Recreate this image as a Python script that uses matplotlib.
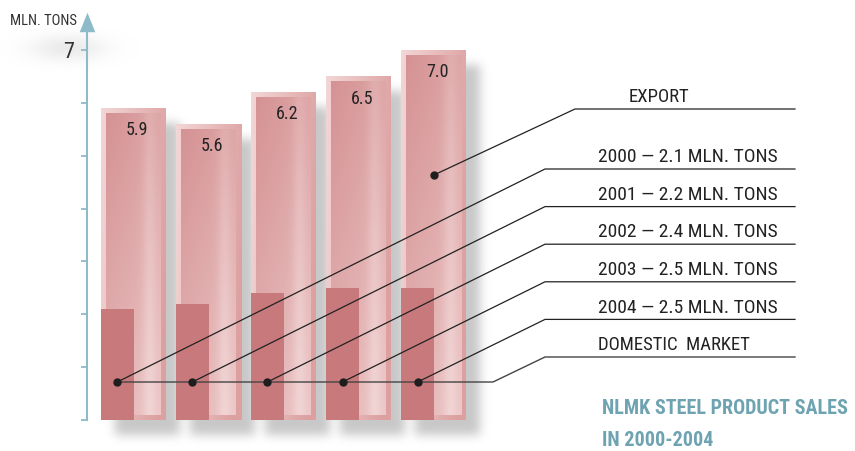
import numpy as np
import matplotlib.pyplot as plt
from matplotlib import font_manager

# sales, mln tons
years = [2000, 2001, 2002, 2003, 2004]
export = [5.9, 5.6, 6.2, 6.5, 7.0]
domestic = [2.1, 2.2, 2.4, 2.5, 2.5]
y_ticks = [0, 1, 2, 3, 4, 5, 6, 7]

# pick a condensed face if one is around
names = {f.name for f in font_manager.fontManager.ttflist}
for fam in ['Liberation Sans Narrow', 'Roboto Condensed', 'DejaVu Sans Condensed', 'Liberation Sans']:
    if fam in names:
        FONT = fam
        break
else:
    FONT = 'DejaVu Sans'
plt.rcParams['font.family'] = [FONT, 'DejaVu Sans']

W_PX, H_PX = 855, 451
Y_ZERO = 420.0      # pixel row of value 0
Y_UNIT = 52.86      # pixels per mln tons
X_FIRST = 133.5     # pixel column of first bar centre
X_STEP = 75.1       # pixels between bars


def px_x(p):
    return (p - X_FIRST) / X_STEP


def px_y(p):
    return (Y_ZERO - p) / Y_UNIT


X0, X1 = px_x(0), px_x(W_PX)
Y0, Y1 = px_y(H_PX), px_y(0)

fig = plt.figure(figsize=(W_PX / 100, H_PX / 100), dpi=100)
ax = fig.add_axes([0, 0, 1, 1])

x = np.arange(len(years))
bw = 65 / X_STEP
ix, iy = 5 / X_STEP, 5 / Y_UNIT

# ---- soft drop shadow behind the bars (blurred mask) ----
cols = X0 + (np.arange(W_PX) + 0.5) / W_PX * (X1 - X0)
rows = Y0 + (np.arange(H_PX) + 0.5) / H_PX * (Y1 - Y0)
gx, gy = np.meshgrid(cols, rows)
mask = np.zeros_like(gx)
sdx, sdy = 14 / X_STEP, 15 / Y_UNIT
for xi, v in zip(x, export):
    m = (gx > xi - bw / 2 + sdx) & (gx < xi + bw / 2 + sdx) & (gy > -sdy) & (gy < v - sdy)
    mask[m] = 1.0
# haze behind the "7"
mask += 0.45 * np.exp(-(((gx - px_x(68)) / (36 / X_STEP)) ** 2 + ((gy - px_y(48)) / (11 / Y_UNIT)) ** 2))


def blur(a, sigma):
    r = int(3 * sigma)
    k = np.exp(-0.5 * (np.arange(-r, r + 1) / sigma) ** 2)
    k /= k.sum()
    a = np.apply_along_axis(lambda s: np.convolve(s, k, mode='same'), 0, a)
    a = np.apply_along_axis(lambda s: np.convolve(s, k, mode='same'), 1, a)
    return a


mask = np.clip(blur(mask, 5), 0, 1)
shadow = np.zeros((H_PX, W_PX, 4))
shadow[..., :3] = 0.52
shadow[..., 3] = mask * 0.45
ax.imshow(shadow, extent=(X0, X1, Y0, Y1), origin='lower', aspect='auto', zorder=0.5)


def gradient(h, w, c0, c1, wx, wy, hl=None):
    ty = np.linspace(0, 1, h)[:, None]
    tx = np.linspace(0, 1, w)[None, :]
    t = np.clip(wx * tx + wy * ty, 0, 1)[..., None]
    img = np.array(c0) + (np.array(c1) - np.array(c0)) * t
    if hl is not None:
        g = (np.exp(-((tx - 0.8) / 0.13) ** 2) * (0.3 + 0.7 * ty))[..., None]
        img = img + (np.array(hl) - img) * 0.6 * g
    return img / 255.0


outer_img = gradient(100, 60, (243, 214, 214), (220, 160, 160), 0.85, 0.25)
inner_img = gradient(200, 60, (213, 146, 148), (236, 198, 198), 0.35, 0.65, hl=(245, 224, 224))

# outer (export) bars with light frame
outer = ax.bar(x, export, width=bw, color='#ebc0c0', linewidth=0, zorder=2)
for b in outer:
    im = ax.imshow(outer_img, extent=(b.get_x(), b.get_x() + b.get_width(), 0, b.get_height()),
                   aspect='auto', zorder=2.1)
    im.set_clip_path(b)

inner = ax.bar(x, np.array(export) - 2 * iy, bottom=iy, width=bw - 2 * ix,
               color='#dca6a6', linewidth=0, zorder=3)
for b in inner:
    im = ax.imshow(inner_img, extent=(b.get_x(), b.get_x() + b.get_width(), b.get_y(), b.get_y() + b.get_height()),
                   aspect='auto', zorder=3.1)
    im.set_clip_path(b)

# domestic market bars sit in the left half
ax.bar(x - bw / 2, domestic, width=bw / 2, align='edge', color='#c8797c', linewidth=0, zorder=4)

for xi, v in zip(x, export):
    ax.text(xi + 0.05, v - 0.42, f'{v:.1f}', ha='center', va='center', fontsize=13,
            color='#222222', zorder=7)

# ---- y axis ----
axis_x = px_x(87)
axis_c = '#8dbbc9'
for s in ['top', 'right', 'bottom']:
    ax.spines[s].set_visible(False)
ax.spines['left'].set_position(('data', axis_x))
ax.spines['left'].set_bounds(0, px_y(28))
ax.spines['left'].set_color(axis_c)
ax.spines['left'].set_linewidth(1.5)
ax.spines['left'].set_zorder(5)
ax.set_yticks(y_ticks)
ax.set_yticklabels(['' if t != 7 else '7' for t in y_ticks])
ax.tick_params(axis='y', length=4, width=1.3, color=axis_c, direction='out', pad=5,
               labelsize=16, labelcolor='#333333')
ax.set_xticks([])
ax.plot([axis_x], [px_y(22)], marker=[(-0.4, -0.5), (0, 0.5), (0.4, -0.5)], markersize=14,
        color=axis_c, markeredgewidth=0, zorder=6, clip_on=False)
fig.text(10 / W_PX, 1 - 21 / H_PX, 'MLN. TONS', fontsize=10.5, color='#333333', va='center', ha='left')

# ---- leader lines and labels ----
lc = '#222222'
dot_y = px_y(382)
lab_x0, lab_x1 = px_x(545), px_x(795)
lab_y = [px_y(169 + 37.6 * k) for k in range(len(years) + 1)]
dots_x = x - bw / 4

for k, (xi, yr, d) in enumerate(zip(dots_x, years, domestic)):
    ax.plot([xi, lab_x0, lab_x1], [dot_y, lab_y[k], lab_y[k]], color=lc, lw=0.9, zorder=5)
    ax.annotate(f'{yr} \u2014 {d} MLN. TONS', (px_x(598), lab_y[k]), xytext=(0, 2),
                textcoords='offset points', ha='left', va='bottom', fontsize=14, color=lc, zorder=7)

# domestic market bus line
ax.plot([dots_x[0], px_x(493), lab_x0, lab_x1], [dot_y, dot_y, lab_y[-1], lab_y[-1]],
        color='#444444', lw=1.0, zorder=5)
ax.annotate('DOMESTIC  MARKET', (px_x(598), lab_y[-1]), xytext=(0, 2), textcoords='offset points',
            ha='left', va='bottom', fontsize=13.5, color=lc, zorder=7)
ax.plot(dots_x, [dot_y] * len(dots_x), 'o', color='#1e1e1e', markersize=5, zorder=6)

# export leader
exp_dot = (x[-1], px_y(175))
ax.plot([exp_dot[0], px_x(575), lab_x1], [exp_dot[1], px_y(109), px_y(109)], color=lc, lw=0.9, zorder=5)
ax.plot([exp_dot[0]], [exp_dot[1]], 'o', color='#1e1e1e', markersize=5, zorder=6)
ax.annotate('EXPORT', (px_x(629), px_y(109)), xytext=(0, 2), textcoords='offset points',
            ha='left', va='bottom', fontsize=13.5, color=lc, zorder=7)

# title
title_c = '#6ea3b2'
fig.text(602 / W_PX, 1 - 408 / H_PX, 'NLMK STEEL PRODUCT SALES', fontsize=14.5, fontweight='bold',
         color=title_c, va='center', ha='left')
fig.text(602 / W_PX, 1 - 440 / H_PX, 'IN 2000-2004', fontsize=14.5, fontweight='bold',
         color=title_c, va='center', ha='left')

ax.set_xlim(X0, X1)
ax.set_ylim(Y0, Y1)
fig.savefig('out.png', dpi=100)
